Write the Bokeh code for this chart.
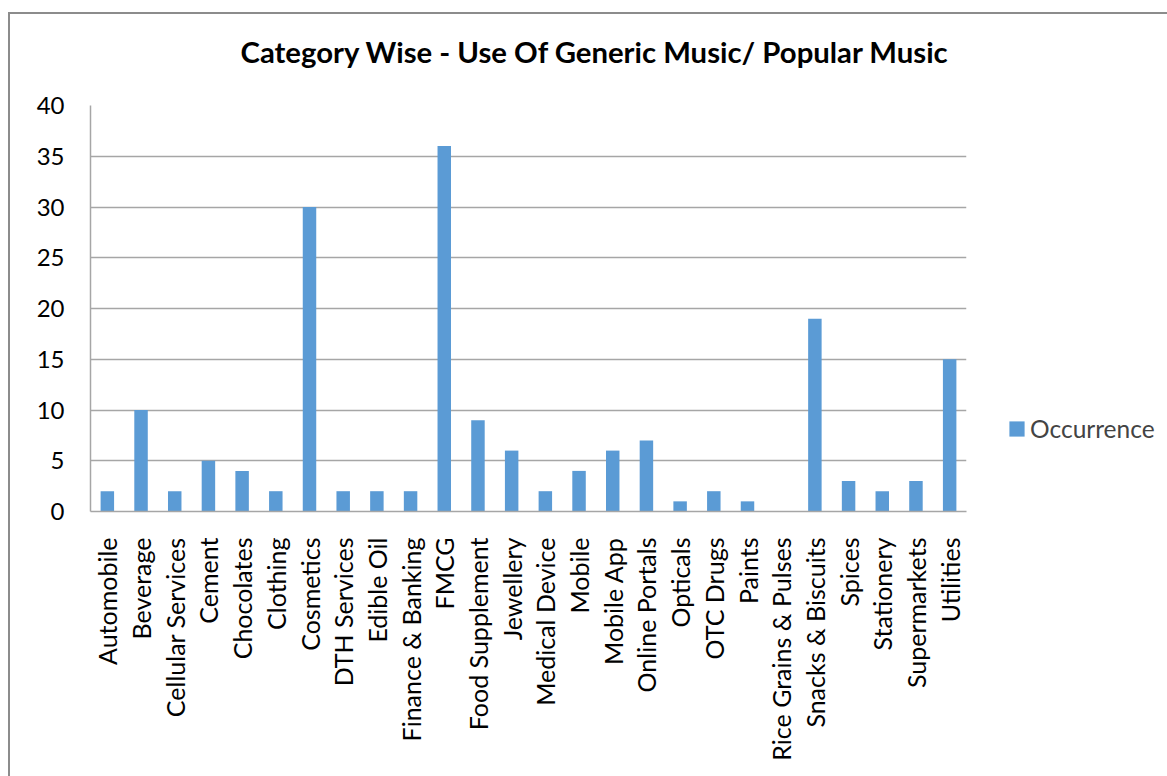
from bokeh.plotting import figure
from bokeh.models import Range1d, FixedTicker, Title, Legend, LegendItem, ColumnDataSource
from bokeh.embed import file_html
from bokeh.resources import INLINE
import math

categories = [
    "Automobile", "Beverage", "Cellular Services", "Cement", "Chocolates",
    "Clothing", "Cosmetics", "DTH Services", "Edible Oil", "Finance & Banking",
    "FMCG", "Food Supplement", "Jewellery", "Medical Device", "Mobile",
    "Mobile App", "Online Portals", "Opticals", "OTC Drugs", "Paints",
    "Rice Grains & Pulses", "Snacks & Biscuits", "Spices", "Stationery",
    "Supermarkets", "Utilities",
]
occurrence = [2, 10, 2, 5, 4, 2, 30, 2, 2, 2, 36, 9, 6, 2, 4, 6, 7, 1, 2, 1, 0, 19, 3, 2, 3, 15]
y_ticks = [0, 5, 10, 15, 20, 25, 30, 35, 40]

title_text = "Category Wise - Use Of Generic Music/ Popular Music"
series_name = "Occurrence"

FONT = "Lato"
BAR = "#5B9BD5"
GRID = "#A6A6A6"

src = ColumnDataSource(dict(cat=categories, val=occurrence))

p = figure(
    x_range=categories, y_range=Range1d(0, 40),
    frame_width=876, frame_height=406,
    output_backend="svg", toolbar_location=None, title_location=None,
    min_border_left=80, min_border_right=150,
    min_border_top=91, min_border_bottom=267,
)
p.margin = (12, 0, 0, 8)
p.styles = {"border-left": "2px solid #8C8C8C", "border-top": "2px solid #8C8C8C"}
p.outline_line_color = None
p.background_fill_color = "white"
p.border_fill_color = "white"

bars = p.vbar(x="cat", top="val", width=0.4, source=src, color=BAR, line_color=None)

# gap between the chart title and the plotting area
p.add_layout(Title(text=" ", text_font=FONT, text_font_size="29px", standoff=0), "above")
p.add_layout(Title(
    text=title_text, align="left", offset=150, standoff=0,
    text_font=FONT, text_font_style="bold", text_font_size="29.3px", text_color="black",
), "above")

# y axis
p.yaxis.ticker = FixedTicker(ticks=y_ticks)
p.yaxis.axis_line_color = GRID
p.yaxis.axis_line_width = 1.5
p.yaxis.major_tick_line_color = None
p.yaxis.minor_tick_line_color = None
p.yaxis.major_tick_out = 0
p.yaxis.major_tick_in = 0
p.yaxis.major_label_standoff = 26
p.yaxis.major_label_text_font = FONT
p.yaxis.major_label_text_font_size = "24px"
p.yaxis.major_label_text_color = "black"

# x axis
p.xaxis.axis_line_color = GRID
p.xaxis.axis_line_width = 1.5
p.xaxis.major_tick_line_color = None
p.xaxis.minor_tick_line_color = None
p.xaxis.major_tick_out = 0
p.xaxis.major_tick_in = 0
p.xaxis.major_label_standoff = 26
p.xaxis.major_label_orientation = math.pi / 2
p.xaxis.major_label_text_font = FONT
p.xaxis.major_label_text_font_size = "25px"
p.xaxis.major_label_text_color = "black"

p.xgrid.grid_line_color = None
p.ygrid.ticker = FixedTicker(ticks=y_ticks)
p.ygrid.grid_line_color = GRID
p.ygrid.grid_line_width = 1.5

legend = Legend(
    items=[LegendItem(label=series_name, renderers=[bars])],
    location=(41, 68),
    glyph_width=19, glyph_height=19, label_standoff=4,
    padding=0, margin=0, spacing=0,
    border_line_color=None, background_fill_alpha=0,
    label_text_font=FONT, label_text_font_size="24.5px",
)
p.add_layout(legend, "right")

open("out.html", "w").write(file_html(p, INLINE))
